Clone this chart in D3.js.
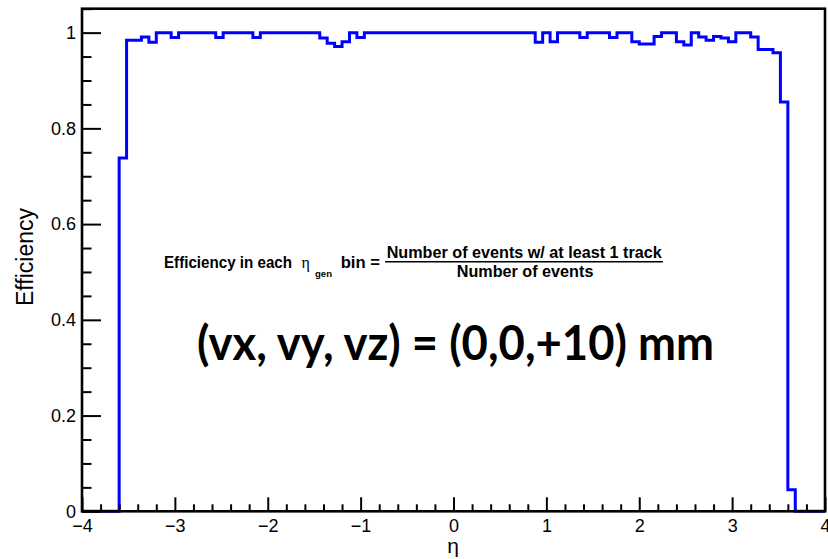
<!DOCTYPE html>
<html>
<head>
<meta charset="utf-8">
<script src="https://cdn.jsdelivr.net/npm/d3@7"></script>
<style>
  html, body { margin: 0; padding: 0; background: #fff; }
  svg { display: block; }
</style>
</head>
<body>
<svg id="vis" width="828" height="559"></svg>
<script>
// histogram binning: 100 bins of 0.08 from -4 to 4
const etaLow = -4, etaHigh = 4, nBins = 100;

// efficiency per eta bin
const efficiency = [
  0, 0, 0, 0, 0, 0.738, 0.984, 0.984, 0.991, 0.980,
  1, 1, 0.990, 1, 1, 1, 1, 1, 0.990, 1,
  1, 1, 1, 0.990, 1, 1, 1, 1, 1, 1,
  1, 1, 0.989, 0.978, 0.971, 0.981, 1, 0.990, 1, 1,
  1, 1, 1, 1, 1, 1, 1, 1, 1, 1,
  1, 1, 1, 1, 1, 1, 1, 1, 1, 1,
  1, 0.980, 1, 0.981, 1, 1, 1, 0.990, 1, 1,
  1, 0.990, 1, 1, 0.981, 0.976, 0.976, 0.992, 1, 1,
  0.981, 0.974, 1, 0.991, 0.984, 0.992, 0.989, 0.981, 1, 1,
  0.991, 0.965, 0.965, 0.958, 0.855, 0.045, 0, 0, 0, 0
];

const xMajor = [-4, -3, -2, -1, 0, 1, 2, 3, 4];
const yMajor = [0, 0.2, 0.4, 0.6, 0.8, 1];
const yMax = 1.05;

const svg = d3.select("#vis");
const frameL = 82, frameR = 825, frameT = 8.7, frameB = 511.3;

const x = d3.scaleLinear().domain([etaLow, etaHigh]).range([frameL, frameR]);
const y = d3.scaleLinear().domain([0, yMax]).range([frameB, frameT]);

const font = "'Liberation Sans', Arial, sans-serif";

// minor tick positions
const xMinor = d3.range(0, 41).map(i => -4 + i * 0.2).filter((d, i) => i % 5 !== 0);
const yMinor = d3.range(0, 22).map(i => i * 0.05).filter((d, i) => i % 4 !== 0);

// histogram outline
const binW = (etaHigh - etaLow) / nBins;
const pts = efficiency.map((v, i) => [etaLow + i * binW, v]);
pts.push([etaHigh, efficiency[nBins - 1]]);
const line = d3.line().x(d => x(d[0])).y(d => y(d[1])).curve(d3.curveStepAfter);

svg.append("path")
  .attr("d", line(pts))
  .attr("fill", "none")
  .attr("stroke", "#0000ff")
  .attr("stroke-width", 3);

// frame
svg.append("rect")
  .attr("x", frameL).attr("y", frameT)
  .attr("width", frameR - frameL).attr("height", frameB - frameT)
  .attr("fill", "none").attr("stroke", "#000").attr("stroke-width", 2.6);

// x axis
const gx = svg.append("g").attr("transform", `translate(0,${frameB})`);
gx.call(d3.axisBottom(x).tickValues(xMajor).tickSize(-14).tickPadding(8).tickFormat(d3.format("d")));
gx.append("g").call(d3.axisBottom(x).tickValues(xMinor).tickSize(-7).tickFormat(""));
// y axis
const gy = svg.append("g").attr("transform", `translate(${frameL},0)`);
gy.call(d3.axisLeft(y).tickValues(yMajor).tickSize(-19).tickPadding(6)
  .tickFormat(d => (d === 0 || d === 1) ? String(d) : d.toFixed(1)));
gy.append("g").call(d3.axisLeft(y).tickValues(yMinor).tickSize(-9.5).tickFormat(""));

svg.selectAll(".domain").remove();
svg.selectAll(".tick line").attr("stroke", "#000").attr("stroke-width", 2);
svg.selectAll(".tick text").attr("font-family", font).attr("font-size", 18).attr("fill", "#000");

// axis titles
svg.append("text")
  .attr("x", 453).attr("y", 553)
  .attr("text-anchor", "middle")
  .attr("font-family", font).attr("font-size", 21)
  .text("η");

svg.append("text")
  .attr("transform", "translate(33,257) rotate(-90)")
  .attr("text-anchor", "middle")
  .attr("font-family", font).attr("font-size", 23)
  .text("Efficiency");

// formula annotation
const ann = svg.append("g").attr("font-family", font).attr("font-weight", "bold").attr("fill", "#000");
ann.append("text").attr("x", 164).attr("y", 268).attr("font-size", 17)
  .attr("textLength", 128).attr("lengthAdjust", "spacingAndGlyphs")
  .text("Efficiency in each");
ann.append("text").attr("x", 301.5).attr("y", 268).attr("font-size", 16)
  .attr("font-weight", "normal").attr("font-family", "'Liberation Serif', serif")
  .text("η");
ann.append("text").attr("x", 315).attr("y", 277).attr("font-size", 9)
  .attr("textLength", 17).attr("lengthAdjust", "spacingAndGlyphs")
  .text("gen");
ann.append("text").attr("x", 340.7).attr("y", 268).attr("font-size", 17)
  .attr("textLength", 39.3).attr("lengthAdjust", "spacingAndGlyphs")
  .text("bin =");
ann.append("text").attr("x", 386.7).attr("y", 257.5).attr("font-size", 17)
  .attr("textLength", 275).attr("lengthAdjust", "spacingAndGlyphs")
  .text("Number of events w/ at least 1 track");
ann.append("line").attr("x1", 385).attr("x2", 663).attr("y1", 261.7).attr("y2", 261.7)
  .attr("stroke", "#000").attr("stroke-width", 1.6);
ann.append("text").attr("x", 456.7).attr("y", 277).attr("font-size", 17)
  .attr("textLength", 136.7).attr("lengthAdjust", "spacingAndGlyphs")
  .text("Number of events");

// vertex label
svg.append("text")
  .attr("x", 197).attr("y", 360)
  .attr("font-family", "Lato, 'Open Sans', sans-serif").attr("font-weight", "bold")
  .attr("font-size", 47)
  .attr("textLength", 517).attr("lengthAdjust", "spacingAndGlyphs")
  .text("(vx, vy, vz) = (0,0,+10) mm");
</script>
</body>
</html>
